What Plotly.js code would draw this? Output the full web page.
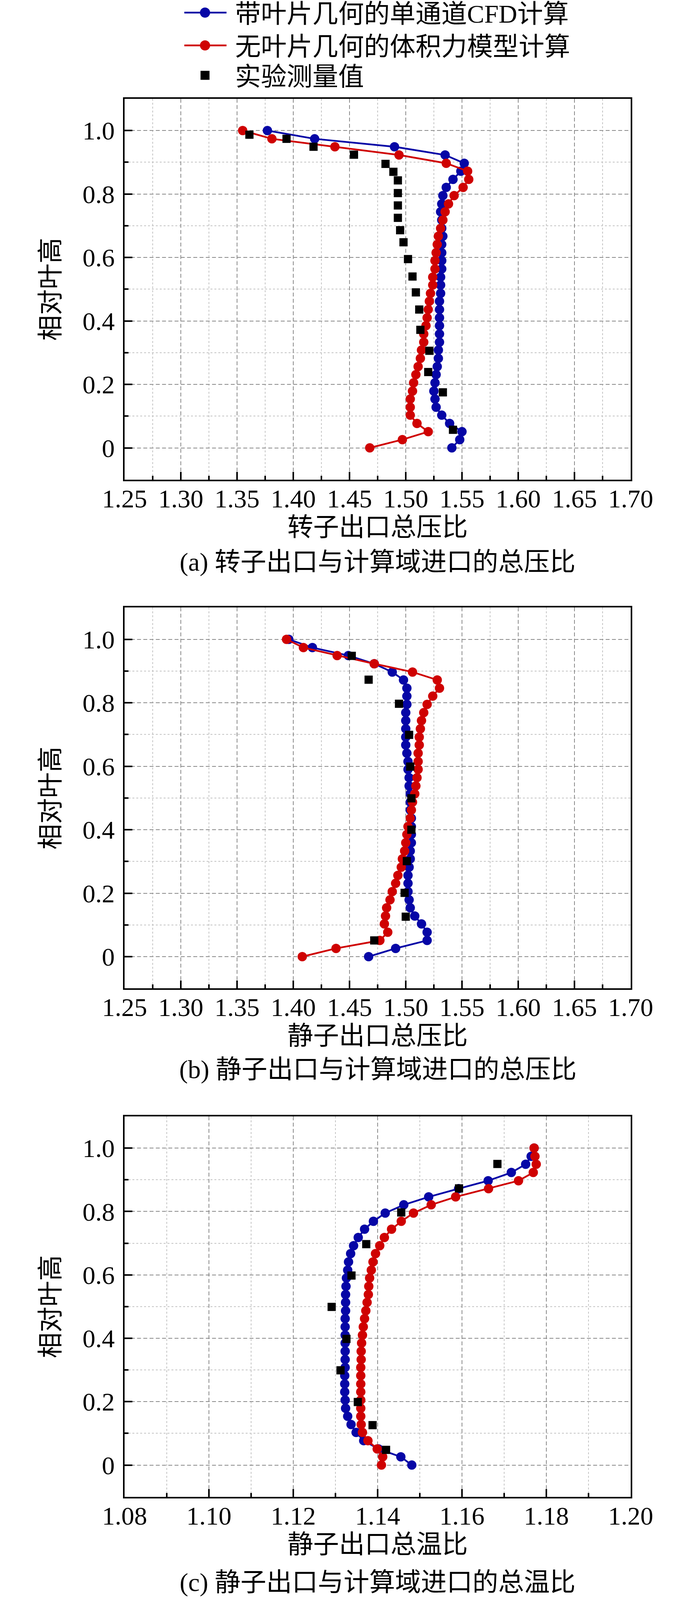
<!DOCTYPE html>
<html>
<head>
<meta charset="utf-8">
<script src="https://cdn.plot.ly/plotly-3.0.1.min.js"></script>
<style>
  html, body { margin: 0; padding: 0; background: #fff; overflow: hidden; }
</style>
</head>
<body>
<div id="chart"></div>
<script>
// relative blade span, shared by all CFD curves (hub -> tip)
let span = [0, 0.026, 0.051, 0.077, 0.103, 0.128, 0.154, 0.179, 0.205, 0.231,
            0.256, 0.282, 0.308, 0.333, 0.359, 0.385, 0.410, 0.436, 0.462, 0.487,
            0.513, 0.538, 0.564, 0.590, 0.615, 0.641, 0.667, 0.692, 0.718, 0.744,
            0.769, 0.795, 0.821, 0.846, 0.872, 0.897, 0.923, 0.949, 0.974, 1.0];

// (a) rotor exit total pressure ratio
let aBlade = [1.541, 1.548, 1.550, 1.539, 1.532, 1.527, 1.526, 1.525, 1.526, 1.527,
              1.528, 1.529, 1.529, 1.530, 1.530, 1.530, 1.530, 1.530, 1.530, 1.531,
              1.531, 1.531, 1.532, 1.532, 1.532, 1.532, 1.533, 1.532, 1.532, 1.531,
              1.532, 1.533, 1.536, 1.542, 1.549, 1.552, 1.535, 1.490, 1.419, 1.377];
let aBody = [1.468, 1.497, 1.520, 1.510, 1.504, 1.504, 1.504, 1.506, 1.507, 1.509,
             1.511, 1.513, 1.514, 1.516, 1.516, 1.518, 1.519, 1.520, 1.521, 1.522,
             1.524, 1.524, 1.526, 1.526, 1.527, 1.528, 1.529, 1.531, 1.533, 1.535,
             1.538, 1.543, 1.551, 1.556, 1.555, 1.536, 1.494, 1.437, 1.381, 1.355];
let aExpX = [1.361, 1.394, 1.418, 1.454, 1.482, 1.489, 1.493, 1.493, 1.493, 1.493, 1.495,
             1.498, 1.502, 1.506, 1.509, 1.512, 1.513, 1.521, 1.520, 1.533, 1.542];
let aExpY = [0.987, 0.974, 0.949, 0.924, 0.895, 0.870, 0.843, 0.803, 0.764, 0.725, 0.686,
             0.648, 0.595, 0.540, 0.490, 0.436, 0.372, 0.306, 0.239, 0.175, 0.057];

// (b) stator exit total pressure ratio
let bBlade = [1.467, 1.491, 1.519, 1.519, 1.514, 1.508, 1.504, 1.503, 1.502, 1.502,
              1.502, 1.503, 1.504, 1.504, 1.505, 1.505, 1.505, 1.505, 1.504, 1.504,
              1.504, 1.503, 1.503, 1.502, 1.502, 1.501, 1.500, 1.500, 1.500, 1.500,
              1.500, 1.501, 1.501, 1.501, 1.498, 1.488, 1.472, 1.449, 1.417, 1.396];
let bBody = [1.408, 1.438, 1.477, 1.484, 1.481, 1.482, 1.483, 1.486, 1.488, 1.491,
             1.493, 1.496, 1.497, 1.499, 1.500, 1.501, 1.502, 1.504, 1.505, 1.506,
             1.508, 1.509, 1.510, 1.511, 1.511, 1.511, 1.512, 1.512, 1.513, 1.514,
             1.516, 1.519, 1.524, 1.530, 1.528, 1.506, 1.472, 1.439, 1.409, 1.394];
let bExpX = [1.452, 1.467, 1.494, 1.503, 1.504, 1.505, 1.505, 1.501, 1.499, 1.500, 1.472];
let bExpY = [0.948, 0.873, 0.797, 0.699, 0.599, 0.499, 0.400, 0.301, 0.201, 0.126, 0.051];

// (c) stator exit total temperature ratio
let cBlade = [1.1481, 1.1455, 1.1402, 1.1367, 1.1349, 1.1337, 1.1329, 1.1324, 1.1323, 1.1322,
              1.1322, 1.1322, 1.1323, 1.1323, 1.1323, 1.1323, 1.1323, 1.1323, 1.1323, 1.1324,
              1.1324, 1.1324, 1.1325, 1.1326, 1.1329, 1.1331, 1.1336, 1.1343, 1.1354, 1.1369,
              1.1390, 1.1418, 1.1462, 1.1521, 1.1592, 1.1662, 1.1717, 1.1751, 1.1764, 1.1771];
let cBody = [1.1409, 1.1412, 1.1399, 1.1377, 1.1364, 1.1361, 1.1360, 1.1360, 1.1360, 1.1360,
             1.1360, 1.1360, 1.1360, 1.1361, 1.1361, 1.1362, 1.1364, 1.1366, 1.1369, 1.1372,
             1.1375, 1.1378, 1.1379, 1.1381, 1.1385, 1.1389, 1.1395, 1.1405, 1.1416, 1.1433,
             1.1456, 1.1485, 1.1527, 1.1585, 1.1663, 1.1734, 1.1769, 1.1776, 1.1773, 1.1771];
let cExpX = [1.1684, 1.1593, 1.1456, 1.1373, 1.1338, 1.1291, 1.1326, 1.1312, 1.1353, 1.1388, 1.1420];
let cExpY = [0.950, 0.873, 0.797, 0.697, 0.598, 0.499, 0.398, 0.299, 0.199, 0.126, 0.048];

let names = ['带叶片几何的单通道CFD计算', '无叶片几何的体积力模型计算', '实验测量值'];
let xTitles = ['转子出口总压比', '静子出口总压比', '静子出口总温比'];
let captions = ['(a) 转子出口与计算域进口的总压比', '(b) 静子出口与计算域进口的总压比', '(c) 静子出口与计算域进口的总温比'];
let yTitle = '相对叶高';
let yTickVals = [0, 0.2, 0.4, 0.6, 0.8, 1.0];
let yTickText = ['0', '0.2', '0.4', '0.6', '0.8', '1.0'];
let yMinorVals = [0.1, 0.3, 0.5, 0.7, 0.9];

// the reference is 1772 x 4387; the window may be shorter, so squeeze vertically
const W = 1772, H0 = 4387;
const H = Math.min(H0, window.innerHeight || H0);
const SY = H / H0;
document.getElementById('chart').style.height = H + 'px';

const FONT = 'Liberation Serif, "Noto Sans CJK SC", serif';
const BLUE = '#0606a6', RED = '#cf0202';

// panel frames in reference pixels: [top, bottom]
const frames = [[271, 1315], [1666, 2710], [3061, 4104]];
const capY = [1541, 2933, 4339];
const legendRows = [38, 128, 210];
const xDom = [319 / W, 1615 / W];

function yDom(f) { return [1 - f[1] / H0, 1 - f[0] / H0]; }

function xAxis(i, range, tick0, dtick, minor, fmt) {
  return {
    domain: xDom, range: range, anchor: i ? 'y' + (i + 1) : 'y',
    tickmode: 'linear', tick0: tick0, dtick: dtick, tickformat: fmt,
    ticks: 'inside', ticklen: 20, tickwidth: 4, tickcolor: '#000',
    showline: true, linewidth: 4, linecolor: '#000', mirror: true,
    showgrid: true, gridcolor: '#8a8a8a', gridwidth: 2, griddash: '10px,6px',
    minor: { dtick: minor, ticks: 'inside', ticklen: 10, tickwidth: 4, tickcolor: '#000',
             showgrid: true, gridcolor: '#c4c4c4', gridwidth: 2, griddash: '5px,5px' },
    zeroline: false, automargin: false, ticklabelstandoff: -12,
    tickfont: { family: FONT, size: 66, color: '#000' },
    title: { text: xTitles[i], standoff: 14, font: { family: FONT, size: 66, color: '#000' } }
  };
}

function yAxis(i) {
  return {
    domain: yDom(frames[i]), range: [-0.1, 1.1], anchor: i ? 'x' + (i + 1) : 'x',
    tickmode: 'array', tickvals: yTickVals, ticktext: yTickText,
    ticks: 'inside', ticklen: 20, tickwidth: 4, tickcolor: '#000',
    showline: true, linewidth: 4, linecolor: '#000', mirror: true,
    showgrid: true, gridcolor: '#8a8a8a', gridwidth: 2, griddash: '10px,6px',
    minor: { tickvals: yMinorVals, ticks: 'inside', ticklen: 10, tickwidth: 4, tickcolor: '#000',
             showgrid: true, gridcolor: '#c4c4c4', gridwidth: 2, griddash: '5px,5px' },
    zeroline: false, automargin: false, ticklabelstandoff: 8,
    tickfont: { family: FONT, size: 66, color: '#000' },
    title: { text: yTitle, standoff: 38, font: { family: FONT, size: 66, color: '#000' } }
  };
}

function panel(i, blade, body, ex, ey) {
  let xa = i ? 'x' + (i + 1) : 'x', ya = i ? 'y' + (i + 1) : 'y';
  return [
    { x: blade, y: span, xaxis: xa, yaxis: ya, name: names[0], mode: 'lines+markers',
      line: { color: BLUE, width: 4.5 }, marker: { color: BLUE, size: 24 }, showlegend: i === 0 },
    { x: body, y: span, xaxis: xa, yaxis: ya, name: names[1], mode: 'lines+markers',
      line: { color: RED, width: 4.5 }, marker: { color: RED, size: 24 }, showlegend: i === 0 },
    { x: ex, y: ey, xaxis: xa, yaxis: ya, name: names[2], mode: 'markers',
      marker: { color: '#000', size: 21, symbol: 'square' }, showlegend: i === 0 }
  ];
}

let data = [].concat(
  panel(0, aBlade, aBody, aExpX, aExpY),
  panel(1, bBlade, bBody, bExpX, bExpY),
  panel(2, cBlade, cBody, cExpX, cExpY)
);

let layout = {
  width: W, height: H,
  margin: { l: 0, r: 0, t: 0, b: 0 },
  paper_bgcolor: '#fff', plot_bgcolor: '#fff',
  font: { family: FONT, size: 66, color: '#000' },
  showlegend: true,
  legend: {
    x: 464 / W, y: 1, xanchor: 'left', yanchor: 'top',
    bgcolor: 'rgba(0,0,0,0)', borderwidth: 0, itemwidth: 128,
    font: { family: FONT, size: 66, color: '#000' }, tracegroupgap: 0
  },
  xaxis: xAxis(0, [1.25, 1.70], 1.25, 0.05, 0.025, '.2f'),
  xaxis2: xAxis(1, [1.25, 1.70], 1.25, 0.05, 0.025, '.2f'),
  xaxis3: xAxis(2, [1.08, 1.20], 1.08, 0.02, 0.01, '.2f'),
  yaxis: yAxis(0), yaxis2: yAxis(1), yaxis3: yAxis(2),
  annotations: captions.map((t, i) => ({
    text: t, xref: 'paper', yref: 'paper', x: (xDom[0] + xDom[1]) / 2, y: 1 - capY[i] / H0,
    xanchor: 'center', yanchor: 'middle', showarrow: false,
    font: { family: FONT, size: 66, color: '#000' }
  }))
};

Plotly.newPlot('chart', data, layout, { staticPlot: true }).then(function () {
  // legend keys as in the figure: long line (472-580 px), big marker at 525 px, rows at fixed heights
  document.querySelectorAll('.legend .traces').forEach(function (g, k) {
    let txt = g.querySelector('.legendtext');
    let m = /translate\(([-\d.]+)[ ,]+([-\d.]+)\)/.exec(g.getAttribute('transform') || '');
    if (txt && m) {
      let r = txt.getBoundingClientRect();
      let dy = legendRows[k] * SY - (r.top + r.bottom) / 2;
      g.setAttribute('transform', 'translate(' + m[1] + ',' + (+m[2] + dy) + ')');
    }
    g.querySelectorAll('.js-line').forEach(function (ln) {
      let bb = ln.getBBox(), left = ln.getBoundingClientRect().left;
      if (!bb.width) return;
      ln.setAttribute('d', 'M' + (bb.x + 472 - left) + ',' + (bb.y + bb.height / 2) + 'h108');
    });
    g.querySelectorAll('.scatterpts').forEach(function (p) {
      let bb = p.getBBox(), r = p.getBoundingClientRect();
      if (!bb.width) return;
      let size = k === 2 ? 23 : 26;
      let dx = 525 - (r.left + r.right) / 2;
      p.setAttribute('transform', 'translate(' + dx + ',0) ' + (p.getAttribute('transform') || '') +
        ' scale(' + (size / bb.width) + ')');
    });
  });
});
</script>
</body>
</html>
